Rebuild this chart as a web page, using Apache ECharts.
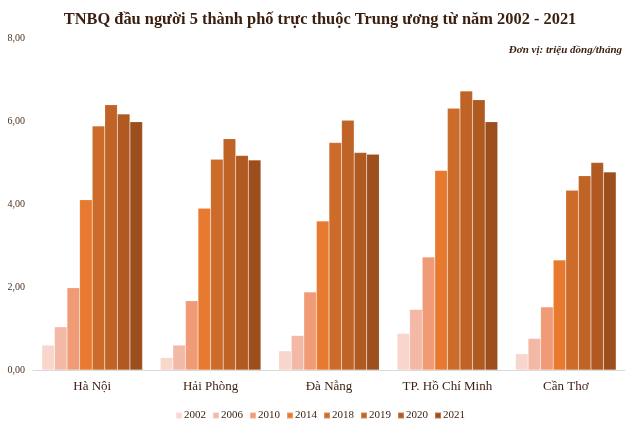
<!DOCTYPE html>
<html>
<head>
<meta charset="utf-8">
<script src="https://cdn.jsdelivr.net/npm/echarts@6/dist/echarts.min.js"></script>
<style>html,body{margin:0;padding:0;background:#fff;}#c{width:640px;height:432px;}</style>
</head>
<body>
<div id="c"></div>
<script>
const categories = ['Hà Nội', 'Hải Phòng', 'Đà Nẵng', 'TP. Hồ Chí Minh', 'Cần Thơ'];
const years = ['2002', '2006', '2010', '2014', '2018', '2019', '2020', '2021'];
const y2002 = [0.60, 0.30, 0.46, 0.88, 0.39];
const y2006 = [1.04, 0.60, 0.83, 1.46, 0.76];
const y2010 = [1.98, 1.67, 1.88, 2.72, 1.52];
const y2014 = [4.10, 3.90, 3.59, 4.81, 2.65];
const y2018 = [5.88, 5.08, 5.48, 6.31, 4.33];
const y2019 = [6.39, 5.57, 6.02, 6.72, 4.68];
const y2020 = [6.17, 5.17, 5.24, 6.51, 5.00];
const y2021 = [5.98, 5.06, 5.20, 5.98, 4.77];
const yTicks = ['0,00', '2,00', '4,00', '6,00', '8,00'];
const colors = ['#f8d6cc', '#f3b9a6', '#f09b76', '#e87a30', '#cd6b2b', '#c06326', '#b05a22', '#9c4f1d'];
const seriesData = [y2002, y2006, y2010, y2014, y2018, y2019, y2020, y2021];

const chart = echarts.init(document.getElementById('c'));
chart.setOption({
  animation: false,
  textStyle: { fontFamily: 'Liberation Serif' },
  title: [
    { text: 'TNBQ đầu người 5 thành phố trực thuộc Trung ương từ năm 2002 - 2021',
      left: 'center', top: 7,
      textStyle: { fontFamily: 'Liberation Serif', fontSize: 16.4, fontWeight: 'bold', color: '#3a1e0e' } },
    { text: 'Đơn vị: triệu đồng/tháng', right: 13, top: 40,
      textStyle: { fontFamily: 'Liberation Serif', fontSize: 11, fontWeight: 'bold', fontStyle: 'italic', color: '#3a1e0e' } }
  ],
  legend: {
    bottom: 6, left: 'center', itemWidth: 6, itemHeight: 6, itemGap: 6,
    icon: 'rect',
    textStyle: { fontFamily: 'Liberation Serif', fontSize: 11, color: '#3a1e0e', padding: [0, 0, 0, -3] },
    data: years
  },
  grid: { left: 33, right: 15, top: 38, bottom: 62 },
  xAxis: {
    type: 'category', data: categories,
    axisLine: { lineStyle: { color: '#d9d9d9', width: 1 } },
    axisTick: { show: false },
    axisLabel: { fontFamily: 'Liberation Serif', fontSize: 13, color: '#3a1e0e', margin: 10 }
  },
  yAxis: {
    type: 'value', min: 0, max: 8, interval: 2,
    splitLine: { show: false },
    axisLine: { show: false },
    axisTick: { show: false },
    axisLabel: {
      fontFamily: 'Liberation Serif', fontSize: 10, color: '#4a3020', margin: 8,
      formatter: v => yTicks[Math.round(v / 2)]
    }
  },
  series: years.map((y, i) => ({
    name: y, type: 'bar', data: seriesData[i],
    barGap: '0%', barCategoryGap: '15%',
    itemStyle: { color: colors[i], borderColor: 'rgba(255,255,255,0.25)', borderWidth: 0.5 }
  }))
});
</script>
</body>
</html>
